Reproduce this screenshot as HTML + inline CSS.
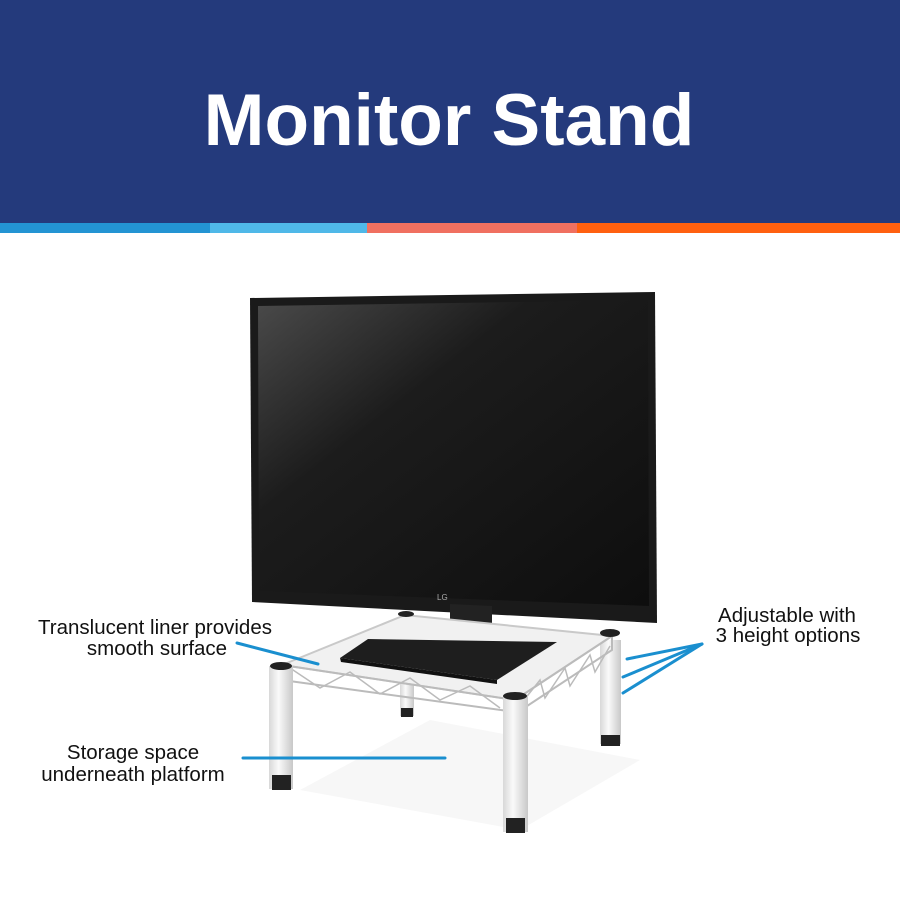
<!DOCTYPE html>
<html><head><style>
body{margin:0;width:900px;height:900px;overflow:hidden;background:#fff;font-family:"Liberation Sans",sans-serif}
</style></head><body>
<svg width="900" height="900" xmlns="http://www.w3.org/2000/svg">
<defs>
<linearGradient id="scr" x1="0" y1="0" x2="1" y2="1">
<stop offset="0" stop-color="#4a4a4a"/><stop offset="0.35" stop-color="#1c1c1c"/><stop offset="1" stop-color="#0e0e0e"/>
</linearGradient>
<linearGradient id="leg" x1="0" y1="0" x2="1" y2="0">
<stop offset="0" stop-color="#d8d8d8"/><stop offset="0.4" stop-color="#fafafa"/><stop offset="1" stop-color="#c8c8c8"/>
</linearGradient>
</defs>
<rect x="0" y="0" width="900" height="224" fill="#243a7c"/>
<text x="449" y="145" text-anchor="middle" font-size="73" font-weight="bold" fill="#fff" font-family="Liberation Sans, sans-serif">Monitor Stand</text>
<rect x="0" y="223" width="210" height="10" fill="#2394d3"/>
<rect x="210" y="223" width="157" height="10" fill="#4fb8e8"/>
<rect x="367" y="223" width="210" height="10" fill="#f07060"/>
<rect x="577" y="223" width="323" height="10" fill="#ff6010"/>

<polygon points="300,790 520,830 640,760 430,720" fill="#f7f7f7"/>
<rect x="400" y="640" width="14" height="76" fill="url(#leg)"/>
<rect x="401" y="708" width="12" height="9" fill="#222"/>
<rect x="600" y="640" width="21" height="104" fill="url(#leg)"/>
<rect x="601" y="735" width="19" height="11" fill="#222"/>
<polygon points="450,600 492,602 492,640 450,638" fill="#222"/>
<polygon points="250,298 655,292 657,623 252,602" fill="#1a1a1a"/>
<polygon points="258,306 648,300 649,606 259,591" fill="url(#scr)"/>
<polygon points="450,604 492,606 492,640 450,638" fill="#222"/>
<text x="437" y="600" font-size="8" fill="#aaa">LG</text>
<polygon points="282,665 405,615 612,636 515,700" fill="#f1f1f1" stroke="#c9c9c9" stroke-width="2"/>
<polygon points="282,665 515,700 515,712 282,680" fill="none" stroke="#bbb" stroke-width="2"/>
<polyline points="290,668 320,688 350,672 380,694 410,678 440,700 470,686 500,708" fill="none" stroke="#bbb" stroke-width="1.5"/>
<polygon points="515,700 612,636 612,650 515,714" fill="none" stroke="#bbb" stroke-width="2"/>
<polyline points="520,705 540,680 545,698 565,668 570,686 590,655 595,672 610,646" fill="none" stroke="#bbb" stroke-width="1.5"/>
<polygon points="340,658 368,639 557,642 497,680" fill="#1e1e1e"/>
<polygon points="340,658 497,680 497,684 341,662" fill="#111"/>
<rect x="269" y="666" width="24" height="123" fill="url(#leg)"/>
<rect x="272" y="775" width="19" height="15" fill="#222"/>
<ellipse cx="281" cy="666" rx="11" ry="4" fill="#222"/>
<rect x="503" y="696" width="25" height="136" fill="url(#leg)"/>
<rect x="506" y="818" width="19" height="15" fill="#222"/>
<ellipse cx="515" cy="696" rx="12" ry="4" fill="#222"/>
<ellipse cx="610" cy="633" rx="10" ry="4" fill="#222"/>
<ellipse cx="406" cy="614" rx="8" ry="3" fill="#222"/>

<g stroke="#1a8fcf" stroke-width="3" stroke-linecap="round">
<line x1="237" y1="643" x2="318" y2="664"/>
<line x1="243" y1="758" x2="445" y2="758"/>
<line x1="702" y1="644" x2="627" y2="659"/>
<line x1="702" y1="644" x2="623" y2="677"/>
<line x1="702" y1="644" x2="623" y2="693"/>
</g>
<g font-size="20.5" fill="#111" text-anchor="middle">
<text x="155" y="634">Translucent liner provides</text>
<text x="157" y="655">smooth surface</text>
<text x="133" y="759">Storage space</text>
<text x="133" y="781">underneath platform</text>
<text x="787" y="622">Adjustable with</text>
<text x="788" y="642">3 height options</text>
</g>
</svg>
</body></html>
